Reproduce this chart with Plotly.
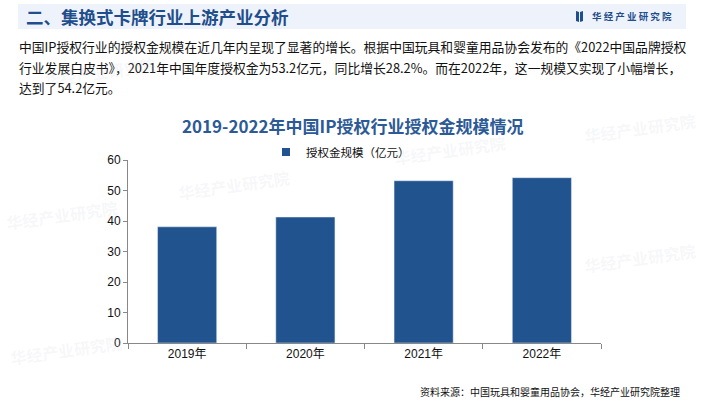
import plotly.graph_objects as go

W, H = 705, 400

categories = ["2019年", "2020年", "2021年", "2022年"]
values = [38.1, 41.3, 53.2, 54.2]
series_name = "授权金规模（亿元）"
y_ticks = [0, 10, 20, 30, 40, 50, 60]

header_title = "二、集换式卡牌行业上游产业分析"
brand = "华 经 产 业 研 究 院"
paragraph_lines = [
    "中国IP授权行业的授权金规模在近几年内呈现了显著的增长。根据中国玩具和婴童用品协会发布的《2022中国品牌授权",
    "行业发展白皮书》，2021年中国年度授权金为53.2亿元，同比增长28.2%。而在2022年，这一规模又实现了小幅增长，",
    "达到了54.2亿元。",
]
chart_title = "2019-2022年中国IP授权行业授权金规模情况"
source_text = "资料来源：中国玩具和婴童用品协会，华经产业研究院整理"
watermark = "华经产业研究院"

BAR = "#21538f"
DARK = "#1f4e8c"
CJK = "Noto Sans CJK SC"
LAT = "Liberation Sans, Noto Sans CJK SC"


def px(x):
    return x / W


def py(y):
    return 1 - y / H


fig = go.Figure()
fig.add_trace(go.Bar(x=categories, y=values, marker_color=BAR, width=0.5,
                     showlegend=False, name=series_name, hoverinfo="skip"))
fig.add_trace(go.Scatter(x=[categories[0]], y=[None], mode="markers",
                         marker=dict(symbol="square", size=8, color=BAR),
                         name=series_name, showlegend=True, hoverinfo="skip"))

annotations = []
annotations.append(dict(x=px(24), y=py(17), xref="paper", yref="paper", text=f"<b>{header_title}</b>",
                        showarrow=False, xanchor="left", yanchor="middle",
                        font=dict(family=CJK, size=17.5, color=DARK)))
annotations.append(dict(x=px(590), y=py(16), xref="paper", yref="paper", text=f"<b>{brand}</b>",
                        showarrow=False, xanchor="left", yanchor="middle",
                        font=dict(family=CJK, size=9.5, color=DARK)))
for i, line in enumerate(paragraph_lines):
    annotations.append(dict(x=px(17), y=py(47 + i * 20.5), xref="paper", yref="paper", text=line,
                            showarrow=False, xanchor="left", yanchor="middle",
                            font=dict(family=CJK, size=12.8, color="#111111")))
annotations.append(dict(x=px(352), y=py(125), xref="paper", yref="paper", text=f"<b>{chart_title}</b>",
                        showarrow=False, xanchor="center", yanchor="middle",
                        font=dict(family=CJK, size=17, color="#2c5a96")))
annotations.append(dict(x=px(682), y=py(391), xref="paper", yref="paper", text=source_text,
                        showarrow=False, xanchor="right", yanchor="middle",
                        font=dict(family=CJK, size=10, color="#111111")))
# faint watermarks
for (wx, wy) in [(234, 185), (450, 150), (62, 215), (66, 350), (640, 258), (640, 128), (100, 72)]:
    annotations.append(dict(x=px(wx), y=py(wy), xref="paper", yref="paper", text=f"<b>{watermark}</b>",
                            showarrow=False, xanchor="center", yanchor="middle", textangle=-8,
                            font=dict(family=CJK, size=16, color="rgba(200,205,215,0.16)")))

shapes = [
    dict(type="rect", xref="paper", yref="paper", x0=px(18), x1=px(686), y0=py(29), y1=py(4),
         fillcolor="#eef3fb", line=dict(width=0), layer="below"),
    dict(type="path", xref="paper", yref="paper",
         path=f"M {px(576)},{py(11)} L {px(579)},{py(12)} L {px(579)},{py(22)} L {px(576)},{py(21)} Z",
         fillcolor=DARK, line=dict(width=0)),
    dict(type="path", xref="paper", yref="paper",
         path=f"M {px(580)},{py(12)} L {px(583)},{py(11)} L {px(583)},{py(21)} L {px(580)},{py(22)} Z",
         fillcolor=DARK, line=dict(width=0)),
]

fig.update_layout(
    width=W, height=H,
    margin=dict(l=0, r=0, t=0, b=0, autoexpand=False),
    paper_bgcolor="white", plot_bgcolor="rgba(0,0,0,0)",
    annotations=annotations, shapes=shapes,
    bargap=0.5,
    legend=dict(x=px(266), y=py(152), xanchor="left", yanchor="middle", orientation="h",
                font=dict(family=CJK, size=11.5, color="#111111"), bgcolor="rgba(0,0,0,0)",
                itemwidth=30),
    xaxis=dict(domain=[px(128), px(601)], type="category", tickson="boundaries",
               ticks="outside", ticklen=5, tickcolor="#888888", showline=True,
               linecolor="#888888", linewidth=1, showgrid=False, automargin=False,
               tickfont=dict(family=LAT, size=12, color="#111111")),
    yaxis=dict(domain=[py(343), py(160)], range=[0, 60], tickvals=y_ticks,
               ticks="outside", ticklen=4, tickcolor="#888888", showline=True,
               linecolor="#888888", linewidth=1, showgrid=False, zeroline=False, automargin=False,
               tickfont=dict(family=LAT, size=12, color="#111111")),
)

fig.write_html("out.html", config={"displayModeBar": False},
               post_script="document.body.style.margin='0px';")
